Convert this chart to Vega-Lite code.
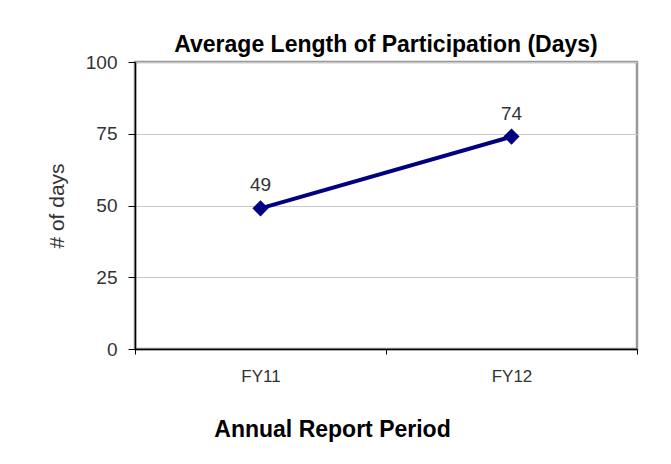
{
  "$schema": "https://vega.github.io/schema/vega-lite/v6.json",
  "width": 502,
  "height": 287,
  "autosize": "none",
  "padding": {"left": 135, "top": 62, "right": 34, "bottom": 115},
  "background": "white",
  "title": {
    "text": "Average Length of Participation (Days)",
    "font": "Liberation Sans",
    "fontSize": 23,
    "fontWeight": "bold",
    "color": "black",
    "anchor": "middle",
    "offset": -4
  },
  "config": {
    "view": {"stroke": "#999999", "strokeWidth": 2.5},
    "axis": {
      "labelFont": "Liberation Sans",
      "titleFont": "Liberation Sans",
      "labelColor": "#333333",
      "domainColor": "black",
      "tickColor": "black",
      "domainWidth": 1.5
    }
  },
  "data": {
    "values": [
      {"period": "FY11", "days": 49},
      {"period": "FY12", "days": 74}
    ]
  },
  "encoding": {
    "x": {
      "field": "period",
      "type": "nominal",
      "scale": {"type": "band", "paddingInner": 0, "paddingOuter": 0},
      "axis": {
        "title": "Annual Report Period",
        "labelAngle": 0,
        "labelFontSize": 17,
        "labelPadding": 14,
        "tickSize": 5,
        "tickBand": "extent",
        "titleFontSize": 23,
        "titleFontWeight": "bold",
        "titleColor": "black",
        "titleX": 197,
        "titlePadding": 34
      }
    },
    "y": {
      "field": "days",
      "type": "quantitative",
      "scale": {"domain": [0, 100], "nice": false},
      "axis": {
        "title": "# of days",
        "values": [0, 25, 50, 75, 100],
        "labelFontSize": 19,
        "labelPadding": 11,
        "tickSize": 7,
        "gridColor": "#c8c8c8",
        "titleFontSize": 21,
        "titleFontWeight": "normal",
        "titleColor": "#333333",
        "titlePadding": 18
      }
    }
  },
  "layer": [
    {"mark": {"type": "line", "color": "#000080", "strokeWidth": 4}},
    {"mark": {"type": "point", "shape": "diamond", "filled": true, "color": "#000080", "size": 260, "opacity": 1}},
    {
      "mark": {"type": "text", "dy": -23, "fontSize": 19, "font": "Liberation Sans", "color": "#333333"},
      "encoding": {"text": {"field": "days", "type": "quantitative"}}
    }
  ]
}
